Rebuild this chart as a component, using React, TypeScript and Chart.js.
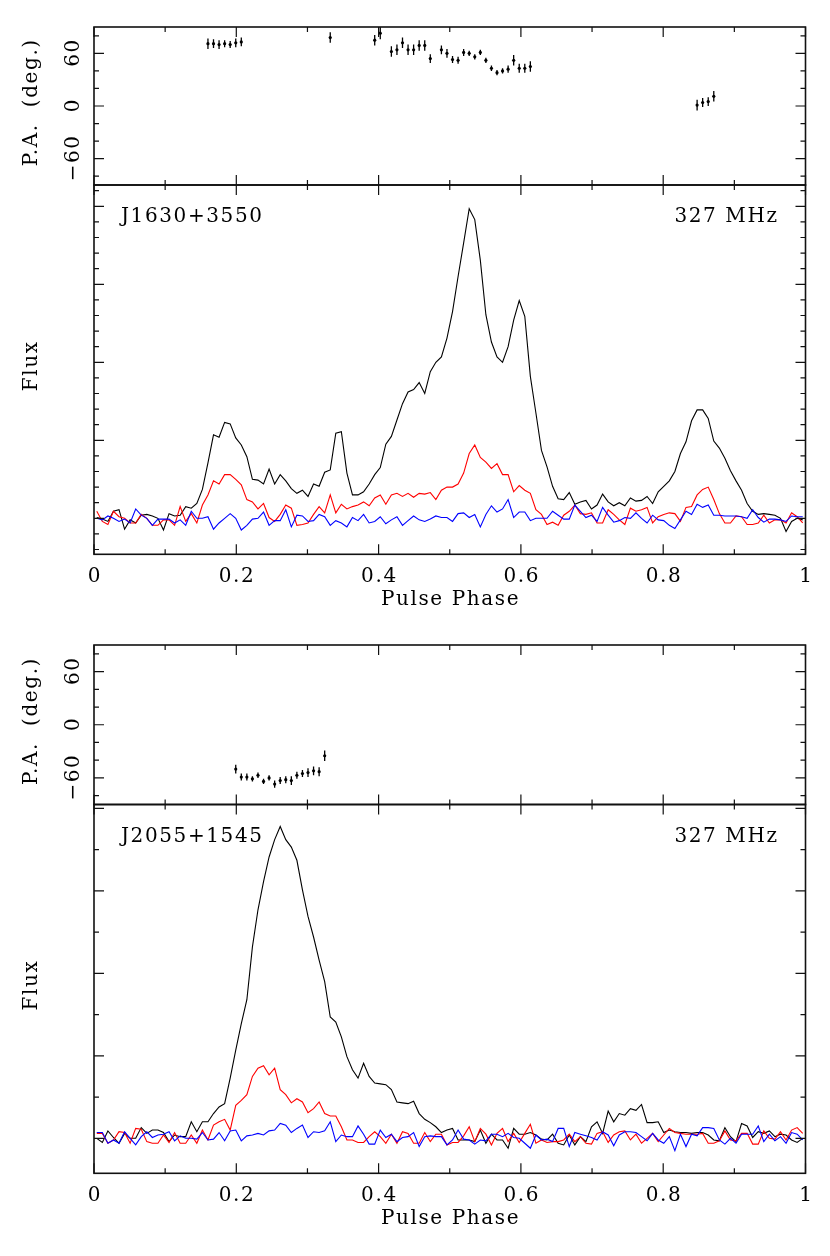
import { useEffect, useRef } from "react";
import { Chart, registerables } from "chart.js";

Chart.register(...registerables);

const W = 830;
const H = 1256;
const NBINS = 128;
const FONT = '"DejaVu Serif", "Liberation Serif", serif';

// tick values and labels
const phaseMajor = [0, 0.2, 0.4, 0.6, 0.8, 1];
const phaseMinor = [0.1, 0.3, 0.5, 0.7, 0.9];
const phaseLabels = ["0", "0.2", "0.4", "0.6", "0.8", "1"];
const paMajor = [-60, 0, 60];
const paMinor = [-80, -40, -20, 20, 40, 80];
const paLabels = ["\u221260", "0", "60"];
const flux1Major = [0, 1, 2, 3, 4];
const flux1Minor = [-0.4, -0.2, 0.2, 0.4, 0.6, 0.8, 1.2, 1.4, 1.6, 1.8, 2.2, 2.4, 2.6, 2.8, 3.2, 3.4, 3.6, 3.8, 4.2];
const flux2Major = [0, 1, 2, 3, 4];
const flux2Minor = [0.5, 1.5, 2.5, 3.5];

// J1630+3550
const psr1Name = "J1630+3550";
const psr1Freq = "327 MHz";
const psr1PaBins = [20, 21, 22, 23, 24, 25, 26, 42, 50, 51, 53, 54, 55, 56, 57, 58, 59, 60, 62, 63, 64, 65, 66, 67, 68, 69, 70, 71, 72, 73, 74, 75, 76, 77, 78, 108, 109, 110, 111];
const psr1Pa = [71, 71, 70, 71, 70, 72, 73, 78, 75, 83, 62, 64, 72, 64, 64, 69, 69, 54, 64, 60, 53, 52, 61, 60, 56, 61, 52, 43, 38, 40, 42, 52, 43, 43, 45, 1, 4, 5, 11];
const psr1PaErr = [6, 5, 5, 4, 4, 5, 5, 6, 6, 7, 6, 6, 6, 6, 6, 6, 6, 5, 5, 5, 4, 4, 4, 3, 3, 3, 3, 3, 3, 3, 4, 6, 5, 5, 6, 6, 5, 5, 6];
const psr1I = [
  0.01, -0.01, -0.04, 0.09, 0.11, -0.14, -0.02, -0.06, 0.04, 0.05,
  0.03, 0, -0.15, 0.06, 0.03, 0.04, 0.15, 0.13, 0.19, 0.37,
  0.71, 1.07, 1.04, 1.23, 1.21, 1.03, 0.94, 0.79, 0.5, 0.49,
  0.44, 0.63, 0.44, 0.56, 0.48, 0.38, 0.32, 0.36, 0.28, 0.44,
  0.41, 0.59, 0.62, 1.09, 1.11, 0.58, 0.3, 0.3, 0.34, 0.44,
  0.56, 0.65, 0.95, 1.05, 1.26, 1.47, 1.62, 1.65, 1.74, 1.6,
  1.88, 2.0, 2.07, 2.31, 2.65, 3.1, 3.53, 3.97, 3.83, 3.31,
  2.61, 2.26, 2.07, 2.0, 2.2, 2.54, 2.79, 2.59, 1.82, 1.35,
  0.87, 0.66, 0.41, 0.25, 0.24, 0.33, 0.18, 0.21, 0.23, 0.12,
  0.17, 0.31, 0.21, 0.16, 0.2, 0.16, 0.26, 0.22, 0.23, 0.28,
  0.19, 0.34, 0.41, 0.48, 0.6, 0.83, 0.98, 1.25, 1.39, 1.39,
  1.28, 0.99, 0.9, 0.77, 0.61, 0.48, 0.36, 0.19, 0.09, 0.05,
  0.06, 0.05, 0.04, 0, -0.17, -0.04, 0, -0.02,
];
const psr1L = [
  0.09, -0.04, -0.08, 0.09, 0.02, 0, -0.06, -0.06, 0.05, 0,
  -0.09, -0.09, -0.02, -0.02, -0.09, 0.15, -0.04, 0.06, -0.06, 0.17,
  0.3, 0.48, 0.44, 0.56, 0.56, 0.5, 0.43, 0.24, 0.21, 0.12,
  0.19, 0.01, -0.04, 0.05, 0.17, 0.13, -0.09, -0.08, -0.06, 0.05,
  0.15, 0.07, 0.3, 0.07, 0.18, 0.12, 0.15, 0.17, 0.21, 0.16,
  0.26, 0.3, 0.18, 0.3, 0.32, 0.28, 0.32, 0.27, 0.32, 0.31,
  0.33, 0.24, 0.36, 0.4, 0.4, 0.44, 0.58, 0.83, 0.94, 0.78,
  0.72, 0.64, 0.7, 0.56, 0.56, 0.34, 0.42, 0.36, 0.32, 0.11,
  0.05, -0.08, -0.05, -0.09, 0.04, 0.09, 0.17, 0.06, 0.05, 0.07,
  -0.06, -0.06, 0.11, 0.05, -0.02, -0.08, 0.13, 0.09, 0.11, 0.14,
  -0.06, 0.02, 0.05, 0.07, 0.06, -0.04, 0.14, 0.15, 0.3, 0.37,
  0.4, 0.24, 0.06, -0.06, -0.06, 0.03, 0.02, -0.08, -0.08, -0.06,
  0.04, -0.06, -0.02, -0.02, -0.06, 0.07, 0.02, -0.06,
];
const psr1V = [
  0, -0.02, 0.03, 0, -0.04, -0.01, -0.06, 0.12, 0.04, 0,
  -0.09, -0.01, -0.01, -0.01, -0.06, -0.02, -0.09, 0.09, 0, 0,
  0.02, -0.14, -0.06, 0, 0.06, 0, -0.15, -0.09, -0.01, 0,
  0.08, -0.09, -0.03, -0.03, 0.11, -0.11, 0.04, 0.03, -0.04, -0.03,
  0.05, 0.02, -0.09, -0.03, -0.06, -0.11, 0.01, -0.03, 0.05, -0.06,
  -0.04, 0.02, -0.07, -0.02, 0.02, -0.09, -0.03, 0.03, -0.02, -0.04,
  -0.01, 0.03, 0.01, 0.01, -0.04, 0.06, 0.07, 0.01, 0.05, -0.11,
  0.05, 0.16, 0.08, 0.12, 0.24, 0.01, 0.08, 0.08, -0.03, 0,
  0, 0, 0.09, 0.04, -0.01, -0.01, 0.17, 0.09, 0.01, 0.04,
  -0.04, 0.14, 0.04, -0.05, -0.03, 0.01, 0, 0.07, 0, -0.06,
  0.04, -0.02, -0.03, -0.09, -0.13, -0.02, 0.09, 0.05, 0.18, 0.14,
  0.17, 0.04, 0.04, 0.03, 0.03, 0.03, 0.02, 0, 0.11, 0.01,
  -0.05, -0.01, -0.01, -0.02, -0.04, 0.03, 0.02, 0.02,
];

// J2055+1545
const psr2Name = "J2055+1545";
const psr2Freq = "327 MHz";
const psr2PaBins = [25, 26, 27, 28, 29, 30, 31, 32, 33, 34, 35, 36, 37, 38, 39, 40, 41];
const psr2Pa = [-50, -59, -59, -61, -57, -64, -60, -67, -63, -62, -63, -57, -55, -54, -52, -53, -35];
const psr2PaErr = [5, 4, 4, 3, 3, 3, 3, 4, 4, 4, 5, 4, 4, 5, 5, 5, 6];
const psr2I = [
  0, -0.05, 0.09, 0.01, -0.06, 0.06, 0, 0, 0.13, 0.06,
  0.1, 0.1, 0.07, -0.04, 0.04, 0.02, 0.02, 0.2, 0.08, 0.2,
  0.2, 0.3, 0.38, 0.42, 0.73, 1.07, 1.39, 1.68, 2.32, 2.77,
  3.11, 3.41, 3.62, 3.78, 3.62, 3.53, 3.37, 3.01, 2.69, 2.44,
  2.16, 1.9, 1.47, 1.41, 1.23, 0.99, 0.83, 0.73, 0.91, 0.75,
  0.67, 0.66, 0.65, 0.59, 0.44, 0.43, 0.42, 0.45, 0.3, 0.23,
  0.19, 0.14, 0.07, 0.1, 0.12, -0.02, -0.02, -0.02, -0.04, 0.1,
  -0.06, 0.05, -0.02, -0.02, -0.12, 0.12, 0.05, 0.05, 0.07, 0.04,
  -0.01, -0.02, 0.05, -0.06, -0.08, 0.04, -0.08, 0.02, -0.04, 0.14,
  0.2, 0.06, 0.33, 0.2, 0.3, 0.28, 0.36, 0.34, 0.41, 0.19,
  0.19, 0.2, 0.07, 0.1, 0.08, 0.07, 0.07, 0.06, 0.07, 0.07,
  0.04, -0.02, -0.03, 0.13, 0.02, -0.04, 0.18, 0.15, 0.01, 0.08,
  0.06, 0.09, 0.02, 0.05, 0.04, -0.02, -0.05, 0,
];
const psr2L = [
  0.06, 0.06, -0.06, -0.02, 0.08, 0.07, -0.06, 0.12, 0.11, -0.04,
  -0.06, -0.06, 0.04, -0.05, 0.07, -0.06, -0.06, 0.04, -0.06, 0.1,
  -0.02, 0.16, 0.2, 0.23, 0.1, 0.4, 0.46, 0.53, 0.75, 0.85,
  0.88, 0.77, 0.85, 0.59, 0.53, 0.43, 0.48, 0.44, 0.31, 0.36,
  0.44, 0.3, 0.27, 0.27, 0.14, -0.02, -0.02, -0.05, -0.05, 0.02,
  0.08, 0.02, -0.06, 0.05, -0.06, 0.08, 0.06, -0.06, -0.06, 0.07,
  -0.04, 0.05, 0.05, -0.08, -0.05, -0.05, 0.03, 0.14, -0.04, 0.12,
  0.05, -0.08, 0.06, 0.12, -0.04, 0.06, -0.05, 0.06, 0.17, -0.06,
  -0.02, -0.05, -0.04, -0.04, -0.02, 0.05, -0.04, 0.02, -0.06, -0.07,
  0.06, 0.08, -0.05, 0.04, 0.08, 0.09, -0.02, 0.05, -0.06, 0,
  0.06, -0.04, 0.04, 0.12, 0.07, 0.06, 0.05, 0.05, 0.05, 0.06,
  -0.06, -0.06, -0.03, 0.09, -0.02, -0.03, 0.06, 0.06, -0.07, -0.07,
  0.09, 0, -0.01, 0.08, -0.02, 0.1, 0.13, 0.06,
];
const psr2V = [
  0.07, 0.07, -0.06, -0.02, -0.06, 0.08, 0, -0.08, 0.02, 0.08,
  0.01, 0.04, 0.05, 0.08, -0.03, 0.03, 0, 0, -0.01, 0.07,
  -0.02, -0.01, 0.07, -0.03, 0.09, 0.1, -0.03, 0.03, 0.04, 0.06,
  0.04, 0.09, 0.1, 0.18, 0.16, 0.07, 0.12, 0.16, 0.01, 0.08,
  0.07, 0.09, 0.2, -0.04, 0.04, 0.02, 0.02, 0.15, 0.05, -0.07,
  -0.07, 0.1, 0.01, 0.05, -0.04, 0.01, 0.02, 0.07, -0.1, 0.02,
  0.03, 0.02, 0.02, -0.08, -0.02, 0.1, -0.01, -0.02, -0.07, -0.02,
  -0.03, 0.05, 0.05, 0.02, 0.06, 0.01, 0, -0.06, -0.12, 0.04,
  -0.02, -0.01, -0.04, 0.12, 0.12, -0.1, 0.07, 0.05, 0.03, 0.01,
  -0.02, 0.08, 0.04, -0.09, 0.04, 0.08, 0.08, 0.07, 0.02, -0.03,
  0.06, -0.02, -0.06, 0.02, -0.15, 0.05, -0.1, 0.05, 0.03, 0.13,
  0.13, 0.12, -0.02, -0.07, 0, -0.06, 0.05, 0.05, 0.05, 0.15,
  -0.04, 0.05, -0.03, 0.02, -0.06, 0.07, 0.05, -0.02,
];

const AREA_LEFT = 94;
const AREA_RIGHT = 805.5;
const SPACING = 1.6;

type PaSpec = { kind: "pa"; top: number; bottom: number; bins: number[]; pa: number[]; err: number[] };
type FluxSpec = {
  kind: "flux"; top: number; bottom: number; yMin: number; yMax: number;
  major: number[]; minor: number[]; I: number[]; L: number[]; V: number[]; name: string; freq: string;
};
type Spec = PaSpec | FluxSpec;

const binPhase = (i: number) => (i + 0.5) / NBINS;
const profile = (vals: number[]) => vals.map((v, i) => ({ x: binPhase(i), y: v }));

function framePlugin(spec: Spec) {
  return {
    id: "pgframe",
    afterDraw(chart: any) {
      const { ctx, chartArea: a } = chart;
      const xs = chart.scales.x;
      const ys = chart.scales.y;
      ctx.save();
      ctx.strokeStyle = "#111";
      ctx.lineWidth = 1.2;
      ctx.beginPath();
      const xt = (v: number, len: number) => {
        const px = xs.getPixelForValue(v);
        ctx.moveTo(px, a.bottom);
        ctx.lineTo(px, a.bottom - len);
        ctx.moveTo(px, a.top);
        ctx.lineTo(px, a.top + len);
      };
      const yt = (v: number, len: number) => {
        const py = ys.getPixelForValue(v);
        ctx.moveTo(a.left, py);
        ctx.lineTo(a.left + len, py);
        ctx.moveTo(a.right, py);
        ctx.lineTo(a.right - len, py);
      };
      phaseMajor.forEach((v) => xt(v, 10));
      phaseMinor.forEach((v) => xt(v, 5));
      if (spec.kind === "pa") {
        paMajor.forEach((v) => yt(v, 10));
        paMinor.forEach((v) => yt(v, 5));
      } else {
        spec.major.forEach((v) => yt(v, 10));
        spec.minor.forEach((v) => yt(v, 5));
      }
      ctx.stroke();
      ctx.lineWidth = 1.6;
      ctx.strokeRect(a.left, a.top, a.right - a.left, a.bottom - a.top);

      ctx.fillStyle = "#000";
      ctx.font = `20px ${FONT}`;
      ctx.letterSpacing = `${SPACING}px`;
      // letterSpacing adds a trailing gap; shift centred text by half of it
      const half = SPACING / 2;
      const rotText = (t: string, x: number, y: number) => {
        ctx.save();
        ctx.translate(x, y);
        ctx.rotate(-Math.PI / 2);
        ctx.textAlign = "center";
        ctx.textBaseline = "middle";
        ctx.fillText(t, half, 0);
        ctx.restore();
      };
      const midY = (a.top + a.bottom) / 2;
      if (spec.kind === "pa") {
        paMajor.forEach((v, i) => rotText(paLabels[i], 74, ys.getPixelForValue(v)));
        rotText("P.A.  (deg.)", 32, midY - 3);
      } else {
        ctx.textBaseline = "middle";
        ctx.textAlign = "center";
        phaseMajor.forEach((v, i) => ctx.fillText(phaseLabels[i], xs.getPixelForValue(v) + half, a.bottom + 22));
        ctx.fillText("Pulse Phase", (a.left + a.right) / 2 + half, a.bottom + 45);
        rotText("Flux", 32, midY - 3);
        ctx.textAlign = "left";
        ctx.fillText(spec.name, 121, a.top + 32);
        ctx.textAlign = "right";
        ctx.fillText(spec.freq, 777 + SPACING, a.top + 32);
      }
      ctx.restore();
    },
  };
}

function buildConfig(spec: Spec): any {
  let datasets: any[];
  let yMin: number;
  let yMax: number;
  if (spec.kind === "pa") {
    yMin = -90;
    yMax = 90;
    const bars: any[] = [];
    spec.bins.forEach((b, i) => {
      bars.push({ x: binPhase(b), y: spec.pa[i] - spec.err[i] });
      bars.push({ x: binPhase(b), y: spec.pa[i] + spec.err[i] });
      bars.push({ x: binPhase(b), y: null });
    });
    datasets = [
      {
        data: spec.bins.map((b, i) => ({ x: binPhase(b), y: spec.pa[i] })),
        showLine: false,
        pointRadius: 1.6,
        pointBackgroundColor: "#000",
        pointBorderWidth: 0,
      },
      {
        data: bars,
        borderColor: "#000",
        borderWidth: 1.3,
        pointRadius: 0,
        spanGaps: false,
      },
    ];
  } else {
    yMin = spec.yMin;
    yMax = spec.yMax;
    datasets = [
      { data: profile(spec.V), borderColor: "#0000ff", order: 1 },
      { data: profile(spec.L), borderColor: "#ff0000", order: 2 },
      { data: profile(spec.I), borderColor: "#000000", order: 3 },
    ].map((d) => ({ ...d, borderWidth: 1.1, pointRadius: 0, tension: 0 }));
  }
  return {
    type: "line",
    data: { datasets },
    options: {
      responsive: false,
      animation: false,
      events: [],
      layout: { padding: { left: AREA_LEFT, right: W - AREA_RIGHT, top: spec.top, bottom: H - spec.bottom } },
      plugins: { legend: { display: false }, tooltip: { enabled: false } },
      scales: {
        x: { type: "linear", min: 0, max: 1, display: false },
        y: { type: "linear", min: yMin, max: yMax, display: false },
      },
    },
    plugins: [framePlugin(spec)],
  };
}

function Panel({ spec }: { spec: Spec }) {
  const ref = useRef<HTMLCanvasElement>(null);
  const inst = useRef<Chart | null>(null);

  useEffect(() => {
    if (!ref.current) return;
    if (inst.current) inst.current.destroy();
    const ctx = ref.current.getContext("2d");
    if (!ctx) return;
    inst.current = new Chart(ctx, buildConfig(spec));
    return () => {
      if (inst.current) {
        inst.current.destroy();
        inst.current = null;
      }
    };
  }, [spec]);

  return (
    <canvas
      ref={ref}
      width={W}
      height={H}
      style={{ position: "absolute", left: 0, top: 0, width: W, height: H }}
    />
  );
}

const panels: Spec[] = [
  { kind: "pa", top: 27, bottom: 185, bins: psr1PaBins, pa: psr1Pa, err: psr1PaErr },
  {
    kind: "flux", top: 185, bottom: 554.3, yMin: -0.4615, yMax: 4.273,
    major: flux1Major, minor: flux1Minor, I: psr1I, L: psr1L, V: psr1V, name: psr1Name, freq: psr1Freq,
  },
  { kind: "pa", top: 645, bottom: 804.5, bins: psr2PaBins, pa: psr2Pa, err: psr2PaErr },
  {
    kind: "flux", top: 804.5, bottom: 1173.3, yMin: -0.424, yMax: 4.046,
    major: flux2Major, minor: flux2Minor, I: psr2I, L: psr2L, V: psr2V, name: psr2Name, freq: psr2Freq,
  },
];

export default function App() {
  return (
    <div style={{ position: "absolute", left: 0, top: 0, width: W, height: H, background: "#fff" }}>
      {panels.map((p, i) => (
        <Panel key={i} spec={p} />
      ))}
    </div>
  );
}
